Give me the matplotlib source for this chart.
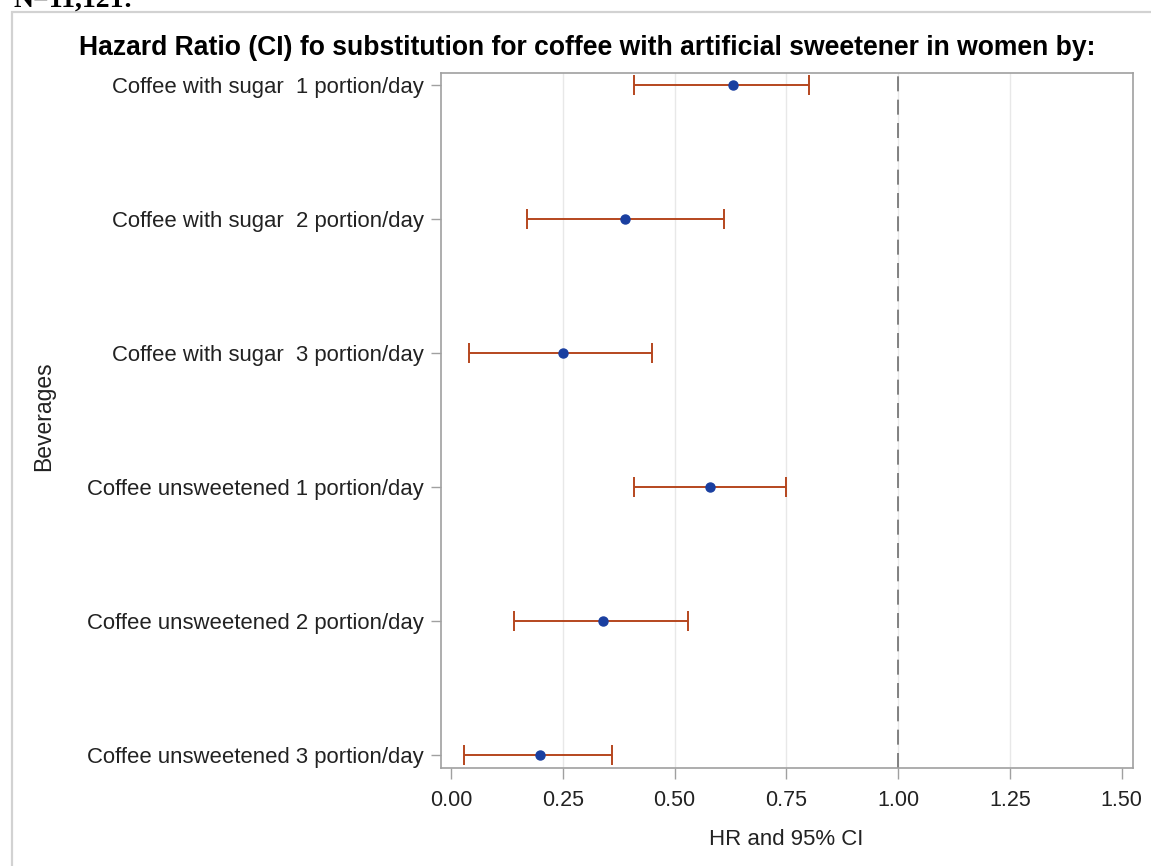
#!/usr/bin/env python
import numpy as np
import matplotlib
matplotlib.use('Agg')
import matplotlib.pyplot as plt
from matplotlib.patches import Rectangle

beverages = ['Coffee with sugar  1 portion/day',
             'Coffee with sugar  2 portion/day',
             'Coffee with sugar  3 portion/day',
             'Coffee unsweetened 1 portion/day',
             'Coffee unsweetened 2 portion/day',
             'Coffee unsweetened 3 portion/day']
hr = [0.63, 0.39, 0.25, 0.58, 0.34, 0.20]
ci_low = [0.41, 0.17, 0.04, 0.41, 0.14, 0.03]
ci_high = [0.80, 0.61, 0.45, 0.75, 0.53, 0.36]
x_ticks = [0.0, 0.25, 0.5, 0.75, 1.0, 1.25, 1.5]

W, H = 1151, 866
plt.rcParams['font.family'] = ['Liberation Sans', 'DejaVu Sans']

fig = plt.figure(figsize=(W / 100.0, H / 100.0), dpi=100)

# outer frame of the graph (only top and left edges are in view)
fig.patches.append(Rectangle((12.0 / W, -0.1), 1.2, 1.1 - 12.0 / H,
                             transform=fig.transFigure, fill=False,
                             edgecolor='#d2d2d2', linewidth=1.6))
# caption above the graph, cut by the top edge like in the source
fig.text(13.0 / W, 1 - 7.0 / H, 'N=11,121:', family='Liberation Serif',
         fontweight='bold', fontsize=20, va='baseline', ha='left')

left, right, top, bottom = 440.5, 1132.5, 73.0, 768.0
ax = fig.add_axes([left / W, 1 - bottom / H, (right - left) / W, (bottom - top) / H])

y = np.arange(len(beverages))
hr = np.array(hr)
low = hr - np.array(ci_low)
high = np.array(ci_high) - hr

for t in x_ticks[1:-1]:
    ax.axvline(t, color='#e8e8e8', linewidth=1.0, zorder=0)
ax.axvline(1.0, color='#6e6e6e', linewidth=1.2, dashes=(9, 5), zorder=1)

ax.errorbar(hr, y, xerr=[low, high], fmt='none', ecolor='#b5461e',
            elinewidth=1.4, capsize=7, capthick=1.4, zorder=2)
ax.plot(hr, y, 'o', color='#1a3fa0', markersize=6.5, zorder=3)

ax.set_xlim(-0.0235, 1.524)
ax.set_ylim(len(beverages) - 1 + 0.097, -0.09)
ax.set_xticks(x_ticks)
ax.set_xticklabels(['%.2f' % t for t in x_ticks])
ax.set_yticks(y)
ax.set_yticklabels(beverages)

for s in ax.spines.values():
    s.set_color('#a0a0a0')
    s.set_linewidth(1.2)
ax.tick_params(axis='x', length=8, width=1.0, color='#a0a0a0', pad=8,
               labelsize=15.5, labelcolor='#222222')
ax.tick_params(axis='y', length=7, width=1.0, color='#a0a0a0', pad=5,
               labelsize=15.9, labelcolor='#222222')

ax.set_xlabel('HR and 95% CI', fontsize=16, color='#222222', labelpad=13)
fig.text(43.5 / W, 1 - 416.0 / H, 'Beverages', rotation=90, fontsize=16.5,
         color='#222222', ha='center', va='center')
fig.text(587.0 / W, 1 - 48.0 / H,
         'Hazard Ratio (CI) fo substitution for coffee with artificial sweetener in women by:',
         fontsize=19.1, fontweight='bold', ha='center', va='center')

plt.savefig('out.png', dpi=100)
